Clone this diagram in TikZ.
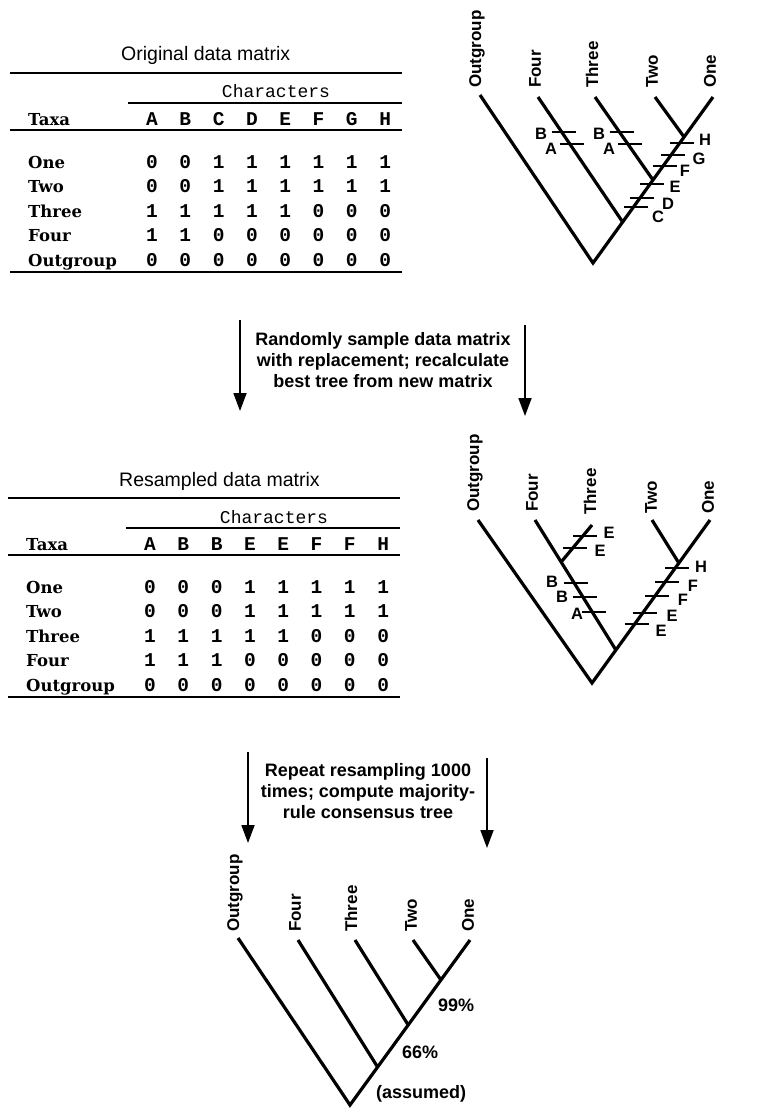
\documentclass[tikz,border=0pt]{standalone}
\usepackage{fontspec}
\setmainfont{Liberation Sans}
\newfontfamily\serifT{DejaVu Serif}
\newfontfamily\monoT{Liberation Mono}
\newfontfamily\sansT{Liberation Sans}
\usetikzlibrary{arrows.meta,calc}

\tikzset{
  branch/.style={line width=3.2pt, line join=miter},
  hashmk/.style={line width=1.6pt},
  tiplab/.style={font=\sansT\bfseries\fontsize{17}{18}\selectfont, rotate=90, anchor=west, inner sep=0pt},
  hashlab/.style={font=\sansT\bfseries\fontsize{16.5}{18}\selectfont, inner sep=0pt},
  pctlab/.style={font=\sansT\bfseries\fontsize{18}{20}\selectfont, inner sep=0pt, anchor=west},
  celltxt/.style={font=\monoT\bfseries\fontsize{19.5}{20}\selectfont, anchor=base, inner sep=0pt},
  chartxt/.style={font=\monoT\fontsize{18}{20}\selectfont, anchor=base, inner sep=0pt},
  taxtxt/.style={font=\serifT\bfseries\fontsize{16.5}{20}\selectfont, anchor=base west, inner sep=0pt},
  ttltxt/.style={font=\sansT\fontsize{19.5}{22}\selectfont, anchor=base west, inner sep=0pt},
  notetxt/.style={font=\sansT\bfseries\fontsize{18}{21}\selectfont, align=center, inner sep=0pt},
  tabrule/.style={line width=1.8pt},
  tabrulethick/.style={line width=2.6pt},
  steparrow/.style={line width=1.8pt, -{Triangle[width=13pt,length=18pt]}}
}

% hash mark across a branch at height #2
\newcommand\hm[3]{%
  \path (intersection of #1 and 0,#2--10,#2) coordinate (#3);
  \draw[hashmk] ([xshift=-10pt]#3) -- ([xshift=14pt]#3);}

% data table: #1 prefix, #2 y offset, #3 x offset, #4 title, #5 header letters, #6 rows
\newcommand\datatable[6]{%
  \begin{scope}[shift={(#3,#2)}]
    \node[ttltxt] (#1-title) at (121,61) {#4};
    \draw[tabrulethick] (10,73) -- (402,73);
    \node[chartxt] (#1-chars) at (276,98) {Characters};
    \draw[tabrule] (128,103) -- (402,103);
    \node[taxtxt] (#1-taxa) at (28,125.5) {Taxa};
    \foreach \hh [count=\cc] in {#5} {
      \node[celltxt] (#1-h\cc) at ({152+33.3*(\cc-1)},125.5) {\hh};
    }
    \draw[tabrule] (10,130) -- (402,130);
    \foreach \nm/\vals [count=\rr] in {#6} {
      \node[taxtxt] (#1-tx\rr) at (28,{143.5+24.6*\rr}) {\nm};
      \foreach \vv [count=\cc] in \vals {
        \node[celltxt] (#1-\rr-\cc) at ({152+33.3*(\cc-1)},{143.5+24.6*\rr}) {\vv};
      }
    }
    \draw[tabrulethick] (10,272) -- (402,272);
  \end{scope}}

\begin{document}
\begin{tikzpicture}[x=1pt,y=-1pt]
\useasboundingbox (0,0) rectangle (780,1110);

% ---------------- tables ----------------
\datatable{t1}{0}{0}{Original data matrix}{A,B,C,D,E,F,G,H}
  {One/{0,0,1,1,1,1,1,1},Two/{0,0,1,1,1,1,1,1},Three/{1,1,1,1,1,0,0,0},Four/{1,1,0,0,0,0,0,0},Outgroup/{0,0,0,0,0,0,0,0}}
\datatable{t2}{425}{-2}{Resampled data matrix}{A,B,B,E,E,F,F,H}
  {One/{0,0,0,1,1,1,1,1},Two/{0,0,0,1,1,1,1,1},Three/{1,1,1,1,1,0,0,0},Four/{1,1,1,0,0,0,0,0},Outgroup/{0,0,0,0,0,0,0,0}}

% ---------------- tree 1 ----------------
\coordinate (a-root) at (593,263);
\coordinate (a-one) at (713,97);
\coordinate (a-two) at (655,97);
\coordinate (a-three) at (595,97);
\coordinate (a-four) at (538,97);
\coordinate (a-out) at (480,95);
\coordinate (a-j2) at ($(a-root)!0.759!(a-one)$);
\coordinate (a-j3) at ($(a-root)!0.5!(a-one)$);
\coordinate (a-j4) at ($(a-root)!0.247!(a-one)$);
\draw[branch] (a-out) -- (a-root) -- (a-one);
\draw[branch] (a-four) -- (a-j4);
\draw[branch] (a-three) -- (a-j3);
\draw[branch] (a-two) -- (a-j2);
\node[tiplab] (a-lout) at ([shift={(-3,-7)}]a-out) {Outgroup};
\node[tiplab] (a-lfour) at ([shift={(-3,-9)}]a-four) {Four};
\node[tiplab] (a-lthree) at ([shift={(-3,-9)}]a-three) {Three};
\node[tiplab] (a-ltwo) at ([shift={(-3,-9)}]a-two) {Two};
\node[tiplab] (a-lone) at ([shift={(-3,-9)}]a-one) {One};
\hm{a-j4--a-four}{132}{a-h4b}
\hm{a-j4--a-four}{144}{a-h4a}
\hm{a-j3--a-three}{132}{a-h3b}
\hm{a-j3--a-three}{144}{a-h3a}
\hm{a-root--a-one}{143}{a-hH}
\hm{a-root--a-one}{155}{a-hG}
\hm{a-root--a-one}{166}{a-hF}
\hm{a-root--a-one}{184}{a-hE}
\hm{a-root--a-one}{198}{a-hD}
\hm{a-root--a-one}{207}{a-hC}
\node[hashlab] (a-l4b) at (541,134) {B};
\node[hashlab] (a-l4a) at (551,149) {A};
\node[hashlab] (a-l3b) at (599,134) {B};
\node[hashlab] (a-l3a) at (609,149) {A};
\node[hashlab] (a-lH) at (705,140) {H};
\node[hashlab] (a-lG) at (699,159) {G};
\node[hashlab] (a-lF) at (685,171) {F};
\node[hashlab] (a-lE) at (675,187) {E};
\node[hashlab] (a-lD) at (668,204) {D};
\node[hashlab] (a-lC) at (658,217) {C};

% ---------------- step 1 ----------------
\coordinate (s1a) at (240,320); \coordinate (s1b) at (240,411);
\coordinate (s1c) at (525,325); \coordinate (s1d) at (525,416);
\draw[steparrow] (s1a) -- (s1b);
\draw[steparrow] (s1c) -- (s1d);
\node[notetxt] (s1txt) at (383,360) {Randomly sample data matrix\\with replacement; recalculate\\best tree from new matrix};

% ---------------- tree 2 ----------------
\coordinate (b-root) at (592,683);
\coordinate (b-one) at (710,520);
\coordinate (b-two) at (652,520);
\coordinate (b-three) at (592,525);
\coordinate (b-four) at (535,520);
\coordinate (b-out) at (478,520);
\coordinate (b-j4) at ($(b-root)!0.2025!(b-one)$);
\coordinate (b-j2) at ($(b-root)!0.736!(b-one)$);
\coordinate (b-j3) at ($(b-j4)!0.677!(b-four)$);
\draw[branch] (b-out) -- (b-root) -- (b-one);
\draw[branch] (b-four) -- (b-j4);
\draw[branch] (b-three) -- (b-j3);
\draw[branch] (b-two) -- (b-j2);
\node[tiplab] (b-lout) at ([shift={(-3,-8)}]b-out) {Outgroup};
\node[tiplab] (b-lfour) at ([shift={(-3,-8)}]b-four) {Four};
\node[tiplab] (b-lthree) at ([shift={(-2,-10)}]b-three) {Three};
\node[tiplab] (b-ltwo) at ([shift={(-1,-6)}]b-two) {Two};
\node[tiplab] (b-lone) at ([shift={(-2,-6)}]b-one) {One};
\hm{b-j3--b-three}{536}{b-h3e1}
\hm{b-j3--b-three}{548}{b-h3e2}
\hm{b-j4--b-four}{583}{b-h4b1}
\hm{b-j4--b-four}{597}{b-h4b2}
\hm{b-j4--b-four}{612}{b-h4a}
\hm{b-root--b-one}{568}{b-hH}
\hm{b-root--b-one}{582}{b-hF1}
\hm{b-root--b-one}{596}{b-hF2}
\hm{b-root--b-one}{613}{b-hE1}
\hm{b-root--b-one}{624}{b-hE2}
\node[hashlab] (b-l3e1) at (609,533) {E};
\node[hashlab] (b-l3e2) at (600,551) {E};
\node[hashlab] (b-l4b1) at (552,582) {B};
\node[hashlab] (b-l4b2) at (562,597) {B};
\node[hashlab] (b-l4a) at (577,614) {A};
\node[hashlab] (b-lH) at (701,567) {H};
\node[hashlab] (b-lF1) at (693,586) {F};
\node[hashlab] (b-lF2) at (683,600) {F};
\node[hashlab] (b-lE1) at (672,616) {E};
\node[hashlab] (b-lE2) at (661,631) {E};

% ---------------- step 2 ----------------
\coordinate (s2a) at (248,752); \coordinate (s2b) at (248,843);
\coordinate (s2c) at (487,758); \coordinate (s2d) at (487,848);
\draw[steparrow] (s2a) -- (s2b);
\draw[steparrow] (s2c) -- (s2d);
\node[notetxt] (s2txt) at (368,791) {Repeat resampling 1000\\times; compute majority-\\rule consensus tree};

% ---------------- tree 3 ----------------
\coordinate (c-root) at (350,1105);
\coordinate (c-one) at (470,940);
\coordinate (c-two) at (413,940);
\coordinate (c-three) at (355,940);
\coordinate (c-four) at (298,940);
\coordinate (c-out) at (238,938);
\coordinate (c-j2) at ($(c-root)!0.758!(c-one)$);
\coordinate (c-j3) at ($(c-root)!0.485!(c-one)$);
\coordinate (c-j4) at ($(c-root)!0.23!(c-one)$);
\draw[branch] (c-out) -- (c-root) -- (c-one);
\draw[branch] (c-four) -- (c-j4);
\draw[branch] (c-three) -- (c-j3);
\draw[branch] (c-two) -- (c-j2);
\node[tiplab] (c-lout) at ([shift={(-3,-6)}]c-out) {Outgroup};
\node[tiplab] (c-lfour) at ([shift={(-3,-8)}]c-four) {Four};
\node[tiplab] (c-lthree) at ([shift={(-4,-8)}]c-three) {Three};
\node[tiplab] (c-ltwo) at ([shift={(-2,-8)}]c-two) {Two};
\node[tiplab] (c-lone) at ([shift={(-2,-8)}]c-one) {One};
\node[pctlab] (c-p99) at (438,1005) {99\%};
\node[pctlab] (c-p66) at (402,1052) {66\%};
\node[pctlab] (c-pas) at (376,1094) {(assumed)};
\end{tikzpicture}
\end{document}
